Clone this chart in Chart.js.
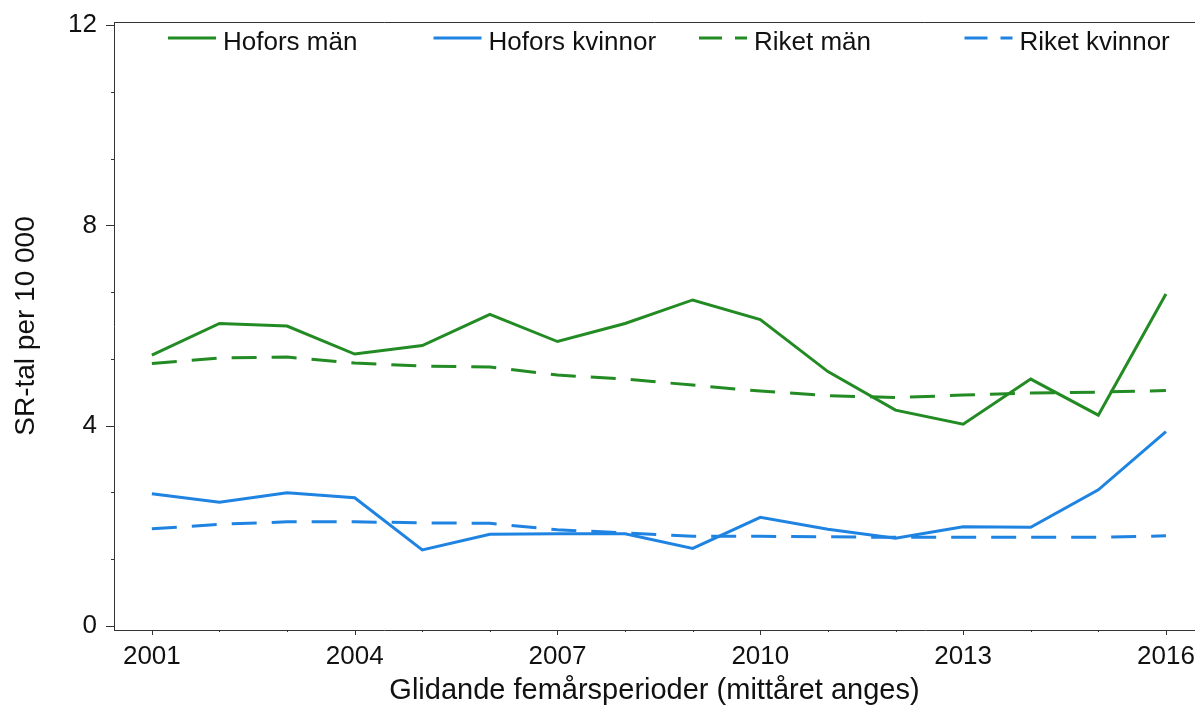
<!DOCTYPE html>
<html>
<head>
<meta charset="utf-8">
<script src="https://cdn.jsdelivr.net/npm/chart.js@4/dist/chart.umd.min.js"></script>
<style>
  html, body { margin: 0; padding: 0; background: #fff; }
  #wrap { width: 1195px; height: 708px; }
</style>
</head>
<body>
<div id="wrap"><canvas id="chart" width="1195" height="708"></canvas></div>
<script>
const YEARS = [2001, 2002, 2003, 2004, 2005, 2006, 2007, 2008, 2009, 2010, 2011, 2012, 2013, 2014, 2015, 2016];
const X_LABELS = [2001, 2004, 2007, 2010, 2013, 2016];
const Y_LABELS = [0, 4, 8, 12];

const hoforsMan = [5.41, 6.04, 5.99, 5.43, 5.6, 6.22, 5.68, 6.04, 6.51, 6.12, 5.08, 4.31, 4.03, 4.93, 4.21, 6.63];
const hoforsKvinnor = [2.64, 2.47, 2.66, 2.56, 1.52, 1.83, 1.84, 1.84, 1.55, 2.17, 1.93, 1.75, 1.98, 1.97, 2.72, 3.88];
const riketMan = [5.24, 5.35, 5.37, 5.25, 5.19, 5.17, 5.01, 4.93, 4.81, 4.69, 4.6, 4.56, 4.61, 4.65, 4.67, 4.7];
const riketKvinnor = [1.94, 2.03, 2.08, 2.08, 2.06, 2.05, 1.92, 1.86, 1.79, 1.79, 1.78, 1.77, 1.77, 1.77, 1.77, 1.8];

const GREEN = '#238b23';
const BLUE = '#1f83e2';
const FONT = '"Liberation Sans", Arial, sans-serif';
const AXIS = '#333333';

// tick marks + top frame line, drawn off the scales
const axisMarks = {
  id: 'axisMarks',
  afterDraw(chart) {
    const { ctx, chartArea: a, scales: { x, y } } = chart;
    ctx.save();
    ctx.strokeStyle = AXIS;
    ctx.lineWidth = 1;
    ctx.beginPath();
    ctx.moveTo(a.left, a.top + 0.5);
    ctx.lineTo(chart.width, a.top + 0.5);
    for (let i = 0; i <= 9; i++) {
      const p = Math.round(y.getPixelForValue(i * 4 / 3)) + 0.5;
      const len = i % 3 === 0 ? 8 : 3;
      ctx.moveTo(a.left - len, p);
      ctx.lineTo(a.left, p);
    }
    YEARS.forEach(yr => {
      const p = Math.round(x.getPixelForValue(yr)) + 0.5;
      const len = X_LABELS.includes(yr) ? 5 : 2;
      ctx.moveTo(p, a.bottom);
      ctx.lineTo(p, a.bottom + len);
    });
    ctx.stroke();
    ctx.restore();
  },
};

// legend in four even columns along the top of the plot
const columnLegend = {
  id: 'columnLegend',
  afterDraw(chart, args, opts) {
    const ctx = chart.ctx;
    ctx.save();
    ctx.font = '26px ' + FONT;
    ctx.textBaseline = 'alphabetic';
    ctx.fillStyle = '#111';
    chart.data.datasets.forEach((ds, i) => {
      const x0 = opts.left + i * opts.step;
      ctx.beginPath();
      ctx.strokeStyle = ds.borderColor;
      ctx.lineWidth = 3;
      ctx.setLineDash(ds.borderDash && ds.borderDash.length ? [23, 13] : []);
      ctx.moveTo(x0, opts.lineY);
      ctx.lineTo(x0 + 48, opts.lineY);
      ctx.stroke();
      ctx.fillText(ds.label, x0 + 55, opts.textY);
    });
    ctx.restore();
  },
};

function line(label, data, color, dashed) {
  return {
    label,
    data,
    borderColor: color,
    backgroundColor: color,
    borderWidth: 3,
    borderDash: dashed ? [25, 15] : [],
    pointRadius: 0,
    tension: 0,
    fill: false,
  };
}

new Chart(document.getElementById('chart').getContext('2d'), {
  type: 'line',
  data: {
    labels: YEARS,
    datasets: [
      line('Hofors män', hoforsMan, GREEN, false),
      line('Hofors kvinnor', hoforsKvinnor, BLUE, false),
      line('Riket män', riketMan, GREEN, true),
      line('Riket kvinnor', riketKvinnor, BLUE, true),
    ],
  },
  options: {
    responsive: false,
    animation: false,
    layout: { padding: { top: 22, right: 0, bottom: 0, left: 0 } },
    scales: {
      x: {
        type: 'linear',
        min: 2000.44,
        max: 2016.43,
        afterBuildTicks: s => { s.ticks = X_LABELS.map(v => ({ value: v })); },
        afterFit: s => { s.height = 78; s.paddingLeft = 0; s.paddingRight = 0; },
        ticks: { color: '#111', font: { family: FONT, size: 26 }, padding: 3, maxRotation: 0, autoSkip: false, callback: v => String(v) },
        grid: { display: false },
        border: { display: true, color: AXIS, width: 1 },
        title: { display: true, text: 'Glidande femårsperioder (mittåret anges)', color: '#111', font: { family: FONT, size: 29 }, padding: { top: 0, bottom: 0 } },
      },
      y: {
        min: -0.08,
        max: 12.06,
        afterBuildTicks: s => { s.ticks = Y_LABELS.map(v => ({ value: v })); },
        afterFit: s => { s.width = 114; s.paddingTop = 0; s.paddingBottom = 0; },
        ticks: { color: '#111', font: { family: FONT, size: 26 }, padding: 9, callback: v => String(v) },
        grid: { display: false },
        border: { display: true, color: AXIS, width: 1 },
        title: { display: true, text: 'SR-tal per 10 000', color: '#111', font: { family: FONT, size: 28 }, padding: { top: 9, bottom: 0 } },
      },
    },
    plugins: {
      legend: { display: false },
      tooltip: { enabled: false },
      columnLegend: { left: 168, step: 265.5, lineY: 38, textY: 50 },
    },
  },
  plugins: [axisMarks, columnLegend],
});
</script>
</body>
</html>
